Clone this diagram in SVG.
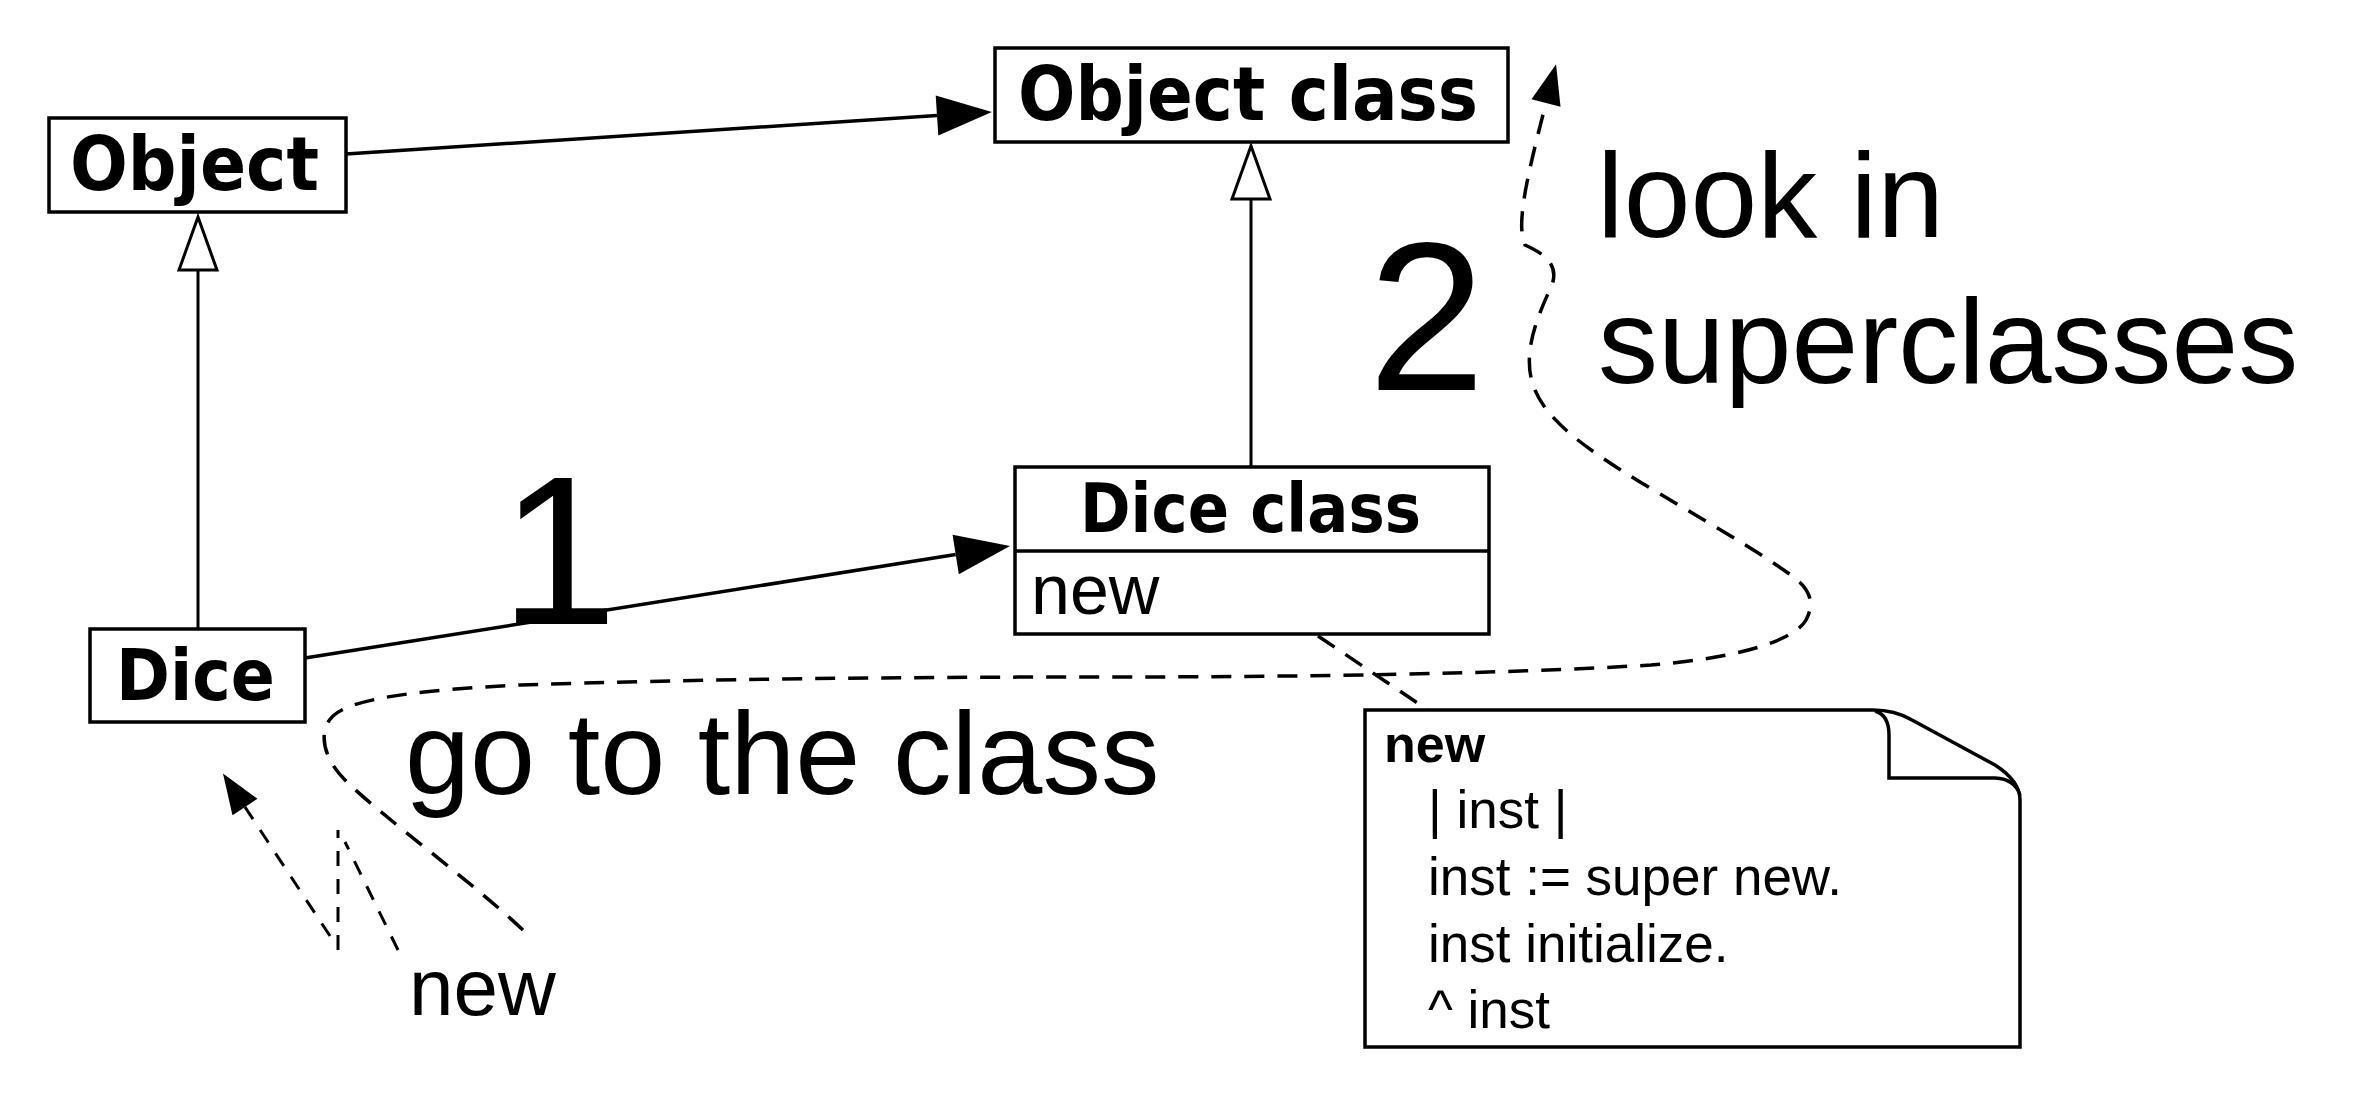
<svg xmlns="http://www.w3.org/2000/svg" width="2366" height="1095" viewBox="0 0 2366 1095">
<style>
.box{fill:#fff;stroke:#000;stroke-width:3.5}
.bold{font-family:"DejaVu Sans",Verdana,sans-serif;font-weight:bold;fill:#000}
.sans{font-family:"Liberation Sans",Arial,sans-serif;fill:#000}
.assoc{stroke:#000;stroke-width:3.5;fill:none}
.gen{stroke:#000;stroke-width:3;fill:none}
.dash{stroke:#000;stroke-width:3.5;fill:none;stroke-dasharray:20 13}
.dash2{stroke:#000;stroke-width:3;fill:none;stroke-dasharray:15 13}
</style>
<defs>
<marker id="filled" markerUnits="userSpaceOnUse" viewBox="0 -20 55 40" markerWidth="55" markerHeight="40" refX="0" refY="0" orient="auto" overflow="visible">
<path d="M0,-20 L55,0 L0,20 Z" fill="#000"/>
</marker>
<marker id="small" markerUnits="userSpaceOnUse" viewBox="0 -15 40 30" markerWidth="40" markerHeight="30" refX="0" refY="0" orient="auto" overflow="visible">
<path d="M0,-15 L40,0 L0,15 Z" fill="#000"/>
</marker>
<marker id="hollow" markerUnits="userSpaceOnUse" viewBox="-2 -21 57 42" markerWidth="57" markerHeight="42" refX="0" refY="0" orient="auto" overflow="visible">
<path d="M0,-19 L53,0 L0,19 Z" fill="#fff" stroke="#000" stroke-width="3"/>
</marker>
</defs>
<rect width="2366" height="1095" fill="#fff"/>

<g id="connectors">
<line class="assoc" x1="346" y1="154" x2="937" y2="115.5" marker-end="url(#filled)"/>
<line class="assoc" x1="305" y1="658" x2="955.7" y2="554.6" marker-end="url(#filled)"/>
<line class="gen" x1="198" y1="629" x2="198" y2="270" marker-end="url(#hollow)"/>
<line class="gen" x1="1251" y1="467" x2="1251" y2="199" marker-end="url(#hollow)"/>
<line class="dash" x1="1318" y1="636" x2="1428" y2="710"/>
<path class="dash" d="M523,930 C470,880 380,815 345,780 C322,757 318,730 333,716 C352,698 420,690 520,685 C700,679 900,677 1100,677 C1300,677 1500,674 1651,665 C1740,658 1795,640 1806,620 C1815,603 1810,590 1795,578 C1760,552 1700,518 1640,482 C1585,448 1545,420 1533,385 C1522,352 1538,315 1552,285 C1560,262 1540,252 1525,245 C1516,225 1526,180 1546,103" marker-end="url(#small)"/>
<line class="dash2" x1="330" y1="936" x2="245" y2="807" marker-end="url(#small)"/>
<line class="dash2" x1="338" y1="950" x2="338" y2="830"/>
<line class="dash2" x1="398" y1="950" x2="345" y2="842"/>
</g>

<g id="object">
<rect class="box" x="49" y="118" width="297" height="94"/>
<text class="bold" x="70" y="190" font-size="74" textLength="249" lengthAdjust="spacingAndGlyphs">Object</text>
</g>

<g id="object-class">
<rect class="box" x="995" y="48" width="513" height="94"/>
<text class="bold" x="1018" y="120" font-size="74" textLength="460" lengthAdjust="spacingAndGlyphs">Object class</text>
</g>

<g id="dice">
<rect class="box" x="90" y="629" width="215" height="93"/>
<text class="bold" x="116" y="700" font-size="71" textLength="159" lengthAdjust="spacingAndGlyphs">Dice</text>
</g>

<g id="dice-class">
<rect class="box" x="1015" y="467" width="474" height="167"/>
<line class="box" x1="1015" y1="551" x2="1489" y2="551"/>
<text class="bold" x="1080" y="532" font-size="68" textLength="341" lengthAdjust="spacingAndGlyphs">Dice class</text>
<text class="sans" x="1031" y="614" font-size="70">new</text>
</g>

<g id="note">
<path class="box" d="M1365,710 L1873,710 Q1895,710 1912,720 L1995,765 Q2020,781 2020,800 L2020,1047 L1365,1047 Z"/>
<path class="box" fill="none" d="M1875,711 Q1889,715 1889,735 L1889,778 L1995,778 Q2015,779 2020,795"/>
<text class="sans" x="1384" y="762" font-size="52" font-weight="bold">new</text>
<text class="sans" x="1428" y="828" font-size="53">| inst |</text>
<text class="sans" x="1428" y="895" font-size="53">inst := super new.</text>
<text class="sans" x="1428" y="962" font-size="53">inst initialize.</text>
<text class="sans" x="1428" y="1028" font-size="53">^ inst</text>
</g>

<g id="labels">
<text class="sans" x="500" y="624" font-size="211">1</text>
<text class="sans" x="1368" y="390" font-size="211">2</text>
<text class="sans" x="1597" y="237" font-size="120">look in</text>
<text class="sans" x="1598" y="383" font-size="120">superclasses</text>
<text class="sans" x="405" y="794" font-size="117">go to the class</text>
<text class="sans" x="409" y="1015" font-size="80">new</text>
</g>
</svg>
